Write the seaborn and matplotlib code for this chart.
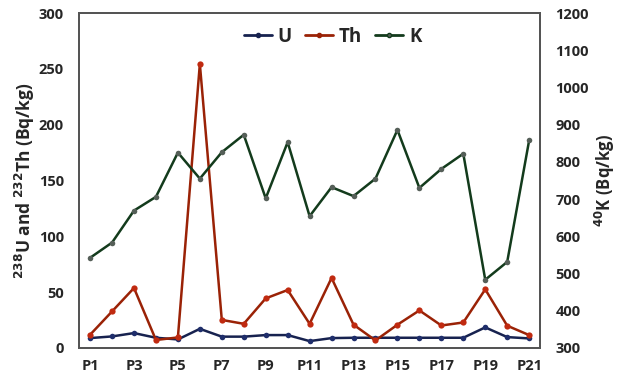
import pandas as pd
import seaborn as sns
import matplotlib.pyplot as plt
from matplotlib.lines import Line2D

points = [f"P{i}" for i in range(1, 22)]
u_vals = [8.7, 10.2, 13.2, 9, 7.5, 17, 10, 10, 11.4, 11.4, 6, 8.7, 9, 9, 9, 9, 9, 9, 18.3, 9.6, 8.4]
th_vals = [11.7, 32.6, 53.6, 7, 9.3, 254.5, 25, 21.5, 44.3, 51.8, 21.5, 62.6, 20.7, 6.6, 20.7, 33.5, 20, 22.7, 52.4, 19.8, 11.4]
k_vals = [542, 583, 669, 706, 825, 755, 826, 873, 702, 853, 654, 732, 708, 755, 886, 730, 781, 822, 483, 531, 858]
tick_labels = [f"P{i}" for i in range(1, 22, 2)]

df = pd.DataFrame({"point": points, "idx": range(len(points)),
                   "U": u_vals, "Th": th_vals, "K": k_vals})

sns.set_theme(style="white")
plt.rcParams["font.family"] = ["Open Sans", "DejaVu Sans"]

fig = plt.figure(figsize=(6.18, 3.76), dpi=100)
ax = fig.add_axes([0.128, 0.075, 0.746, 0.89])
ax2 = ax.twinx()

u_col, th_col, k_col = "#17224f", "#9a2206", "#133b1c"
sns.lineplot(data=df, x="idx", y="U", ax=ax, color=u_col, lw=1.8,
             marker="o", markersize=4, markeredgewidth=0, markerfacecolor="#1f2e6b")
sns.lineplot(data=df, x="idx", y="Th", ax=ax, color=th_col, lw=1.8,
             marker="o", markersize=4.5, markeredgewidth=0, markerfacecolor="#c02a10")
sns.lineplot(data=df, x="idx", y="K", ax=ax2, color=k_col, lw=1.8,
             marker="o", markersize=4, markeredgewidth=0, markerfacecolor="#555f58")

ax.set_ylim(0, 300)
ax.set_yticks(range(0, 301, 50))
ax2.set_ylim(300, 1200)
ax2.set_yticks(range(300, 1201, 100))
ax.set_xlim(-0.5, 20.5)
ax.set_xticks(range(0, 21, 2))
ax.set_xticklabels(tick_labels)

for a in (ax, ax2):
    a.tick_params(axis="y", length=0, labelsize=10.5, pad=11)
    a.tick_params(axis="x", length=0, labelsize=10.5, pad=8)
    for lab in a.get_xticklabels() + a.get_yticklabels():
        lab.set_fontweight("bold")
    for s in a.spines.values():
        s.set_color("#555555")
        s.set_linewidth(1.4)

ax.set_xlabel("")
ax.set_ylabel(r"$\mathbf{^{238}}$U and $\mathbf{^{232}}$Th (Bq/kg)", fontsize=12.5, fontweight="bold", labelpad=1)
ax2.set_ylabel(r"$\mathbf{^{40}}$K (Bq/kg)", fontsize=12, fontweight="bold", labelpad=3)

handles = [Line2D([], [], color=u_col, lw=2, marker="o", markersize=3),
           Line2D([], [], color=th_col, lw=2, marker="o", markersize=3),
           Line2D([], [], color=k_col, lw=2, marker="o", markersize=3, markerfacecolor="#555f58")]
leg = ax.legend(handles, ["U", "Th", "K"], loc="upper center", ncol=3, frameon=False,
                bbox_to_anchor=(0.55, 1.01), handlelength=1.5, handletextpad=0.3, columnspacing=0.7,
                prop={"size": 13.5, "weight": "bold"})

fig.savefig("out.png", dpi=100)
